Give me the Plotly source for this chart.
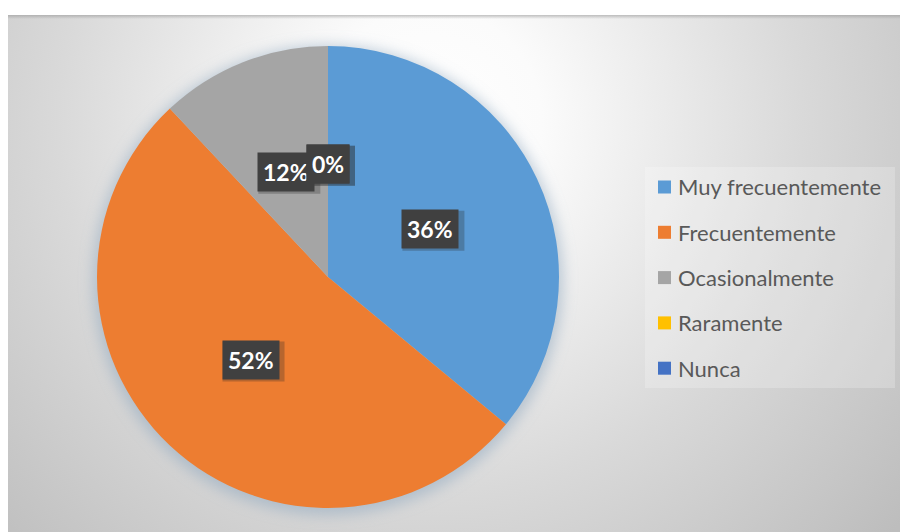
import base64
import math
import plotly.graph_objects as go

# Survey answers and their shares (%)
categories = ["Muy frecuentemente", "Frecuentemente", "Ocasionalmente", "Raramente", "Nunca"]
shares = [36, 52, 12, 0, 0]
colors = ["#5B9BD5", "#ED7D31", "#A5A5A5", "#FFC000", "#4472C4"]

W, H = 900, 532

# Pie placement in pixels (square domain)
PIE_LEFT, PIE_TOP, PIE_SIZE = 97, 46, 462
cx_px = PIE_LEFT + PIE_SIZE / 2
cy_px = PIE_TOP + PIE_SIZE / 2
R = PIE_SIZE / 2

# Chart panel background: radial gray gradient with a soft shadow under the pie
svg = f"""<svg xmlns='http://www.w3.org/2000/svg' width='{W}' height='{H}' viewBox='0 0 {W} {H}'>
<defs>
<radialGradient id='g' gradientUnits='userSpaceOnUse' cx='430' cy='120' r='620'>
<stop offset='0' stop-color='#ffffff'/>
<stop offset='0.18' stop-color='#fbfbfb'/>
<stop offset='0.6' stop-color='#d9d9d9'/>
<stop offset='1' stop-color='#bdbdbd'/>
</radialGradient>
<linearGradient id='t' x1='0' y1='0' x2='0' y2='1'>
<stop offset='0' stop-color='#9a9a9a' stop-opacity='0.6'/>
<stop offset='1' stop-color='#9a9a9a' stop-opacity='0'/>
</linearGradient>
<filter id='b' x='-20%' y='-20%' width='140%' height='140%'><feGaussianBlur stdDeviation='7'/></filter>
</defs>
<rect x='0' y='0' width='{W}' height='{H}' fill='#ffffff'/>
<rect x='8' y='15' width='{W - 8}' height='{H - 15}' fill='url(#g)'/>
<rect x='8' y='15' width='{W - 8}' height='4' fill='url(#t)'/>
<circle cx='{cx_px}' cy='{cy_px + 3}' r='{R + 4}' fill='#8fa7bf' fill-opacity='0.55' filter='url(#b)'/>
</svg>"""
bg_uri = "data:image/svg+xml;base64," + base64.b64encode(svg.encode()).decode()

fig = go.Figure()
fig.add_trace(go.Pie(
    labels=categories,
    values=shares,
    marker=dict(colors=colors, line=dict(width=0)),
    sort=False,
    direction="clockwise",
    rotation=0,
    textinfo="none",
    hoverinfo="label+percent",
    showlegend=False,
    domain=dict(x=[PIE_LEFT / W, (PIE_LEFT + PIE_SIZE) / W],
                y=[1 - (PIE_TOP + PIE_SIZE) / H, 1 - PIE_TOP / H]),
))

# Percentage labels inside dark boxes, placed at each slice's mid-angle
annotations = []
shapes = []
total = sum(shares)
cum = 0.0
label_r = 0.49 * R
for name, v in zip(categories, shares):
    frac = v / total
    mid = (cum + frac / 2) * 2 * math.pi
    cum += frac
    x_px = cx_px + label_r * math.sin(mid)
    y_px = cy_px - label_r * math.cos(mid)
    text = f"{round(frac * 100)}%"
    # soft drop shadow behind each box
    half_w = 10 + 7 * len(text)
    shapes.append(dict(type="rect", xref="paper", yref="paper",
                       x0=(x_px - half_w + 3) / W, x1=(x_px + half_w + 3) / W,
                       y0=1 - (y_px + 22) / H, y1=1 - (y_px - 18) / H,
                       fillcolor="rgba(40,40,40,0.28)", line=dict(width=0)))
    annotations.append(dict(
        x=x_px / W, y=1 - y_px / H, xref="paper", yref="paper",
        text=f"<b>{text}</b>", showarrow=False,
        font=dict(family="Lato", size=23, color="#ffffff"),
        bgcolor="#404040", borderpad=5,
        xanchor="center", yanchor="middle",
    ))

# Legend drawn on the right
shapes.append(dict(type="rect", xref="paper", yref="paper",
                   x0=645 / W, x1=895 / W, y0=1 - 388 / H, y1=1 - 167 / H,
                   fillcolor="rgba(255,255,255,0.22)", line=dict(width=0), layer="below"))
LEG_Y0, LEG_STEP = 187, 45.3
for i, (name, c) in enumerate(zip(categories, colors)):
    yc = LEG_Y0 + i * LEG_STEP
    shapes.append(dict(type="rect", xref="paper", yref="paper",
                       x0=658 / W, x1=671 / W, y0=1 - (yc + 6.5) / H, y1=1 - (yc - 6.5) / H,
                       fillcolor=c, line=dict(width=0)))
    annotations.append(dict(
        x=676 / W, y=1 - yc / H, xref="paper", yref="paper",
        text=name, showarrow=False, xanchor="left", yanchor="middle",
        font=dict(family="Lato", size=22, color="#595959"),
    ))

fig.update_layout(
    width=W, height=H,
    margin=dict(l=0, r=0, t=0, b=0),
    paper_bgcolor="#ffffff",
    images=[dict(source=bg_uri, xref="paper", yref="paper", x=0, y=1,
                 sizex=1, sizey=1, sizing="stretch", xanchor="left", yanchor="top",
                 layer="below")],
    annotations=annotations,
    shapes=shapes,
)

fig.write_html("out.html")
